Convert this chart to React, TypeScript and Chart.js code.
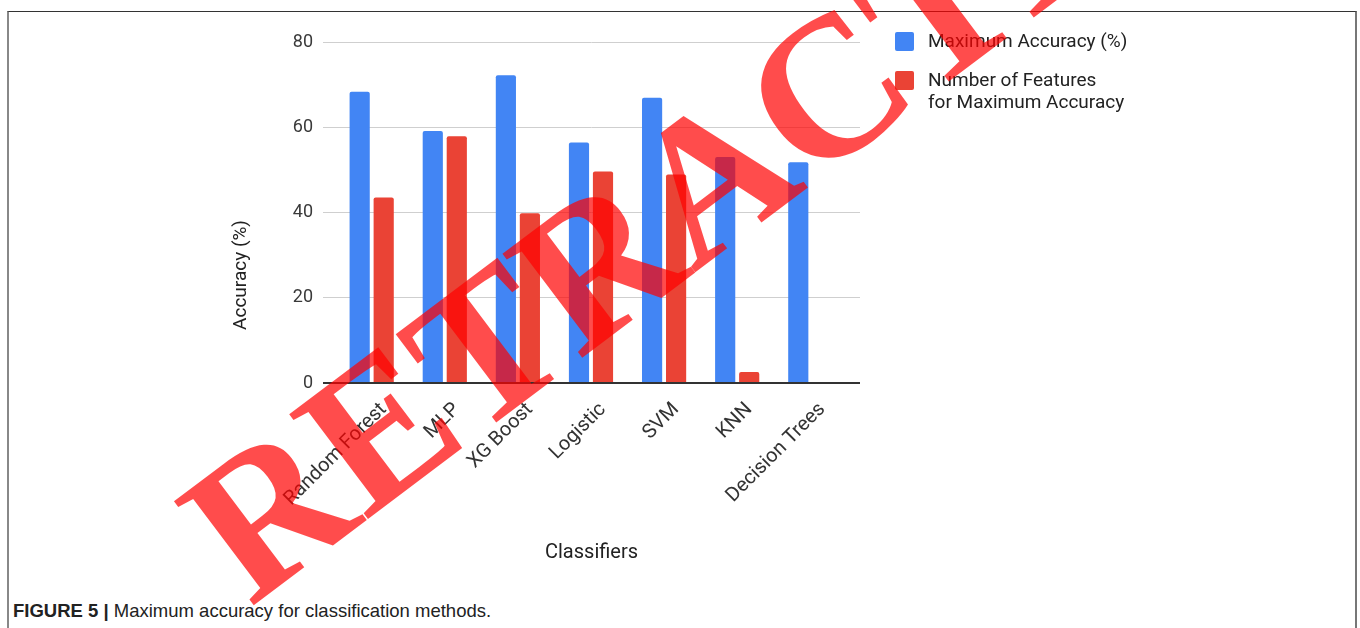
import React, { useEffect, useRef } from 'react';
import { Chart, registerables } from 'chart.js';

Chart.register(...registerables);

const categories = ['Random Forest', 'MLP', 'XG Boost', 'Logistic', 'SVM', 'KNN', 'Decision Trees'];
const maxAccuracy = [68.3, 59.1, 72.2, 56.4, 66.9, 53.0, 51.8];
const numFeatures = [43.5, 57.9, 39.8, 49.6, 48.9, 2.6, 0];
const seriesLabels = ['Maximum Accuracy (%)', 'Number of Features\nfor Maximum Accuracy'];
const seriesColors = ['#4285f4', '#ea4335'];
const yTickValues = [0, 20, 40, 60, 80];
const xTitle = 'Classifiers';
const yTitle = 'Accuracy (%)';
const captionLabel = 'FIGURE 5 |';
const captionText = 'Maximum accuracy for classification methods.';
const stampText = 'RETRACTED';

export default function App() {
  const ref = useRef<HTMLCanvasElement>(null);

  useEffect(() => {
    const canvas = ref.current;
    if (!canvas) return;

    const overlay = {
      id: 'overlay',
      afterDraw(chart: any) {
        const ctx = chart.ctx as CanvasRenderingContext2D;
        const area = chart.chartArea;
        // y axis title
        ctx.save();
        ctx.translate(241.5, 275);
        ctx.rotate(-Math.PI / 2);
        ctx.font = '19px Roboto';
        ctx.fillStyle = '#222';
        ctx.textAlign = 'center';
        ctx.textBaseline = 'middle';
        ctx.fillText(yTitle, 0, 0);
        ctx.restore();

        // legend
        const lx = area.right + 35;
        chart.data.datasets.forEach((ds: any, i: number) => {
          const top = 32 + i * 39;
          ctx.save();
          ctx.fillStyle = ds.backgroundColor;
          ctx.beginPath();
          if ((ctx as any).roundRect) (ctx as any).roundRect(lx, top, 19, 19, 2);
          else ctx.rect(lx, top, 19, 19);
          ctx.fill();
          ctx.font = '19px Roboto';
          ctx.fillStyle = '#222';
          ctx.textAlign = 'left';
          ctx.textBaseline = 'middle';
          String(ds.label).split('\n').forEach((line: string, j: number) => {
            ctx.fillText(line, lx + 33, top + 10.5 + j * 21.7);
          });
          ctx.restore();
        });

        // retraction stamp
        ctx.save();
        ctx.translate(250, 608);
        ctx.rotate((-37 * Math.PI) / 180);
        ctx.font = 'bold 200px "Liberation Serif"';
        ctx.fillStyle = 'rgba(255,0,0,0.7)';
        ctx.textAlign = 'left';
        ctx.textBaseline = 'alphabetic';
        ctx.fillText(stampText, 0, 0);
        ctx.restore();
      },
    };

    Chart.defaults.font.family = 'Roboto';

    const chart = new Chart(canvas, {
      type: 'bar',
      data: {
        datasets: [
          {
            label: seriesLabels[0],
            data: maxAccuracy.map((y, i) => ({ x: i, y })),
            backgroundColor: seriesColors[0],
            categoryPercentage: 0.657,
            barPercentage: 0.84,
            borderRadius: 2,
          },
          {
            label: seriesLabels[1],
            data: numFeatures.map((y, i) => ({ x: i, y })),
            backgroundColor: seriesColors[1],
            categoryPercentage: 0.657,
            barPercentage: 0.84,
            borderRadius: 2,
          },
        ],
      },
      options: {
        responsive: false,
        animation: false,
        layout: { padding: { left: 0, top: 42, right: 500, bottom: 45 } },
        plugins: { legend: { display: false }, tooltip: { enabled: false } },
        scales: {
          x: {
            type: 'linear',
            min: -0.666,
            max: 6.68,
            bounds: 'data',
            offset: false,
            afterBuildTicks: (axis: any) => {
              axis.ticks = categories.map((_, i) => ({ value: i }));
            },
            afterFit: (axis: any) => {
              axis.height = 200;
            },
            grid: { display: false, offset: false },
            border: { display: false },
            ticks: {
              autoSkip: false,
              minRotation: 45,
              maxRotation: 45,
              padding: 7,
              labelOffset: 12,
              color: '#333',
              font: { size: 20 },
              callback: (_v: any, index: number) => categories[index] ?? '',
            },
            title: {
              display: true,
              text: xTitle,
              color: '#222',
              font: { size: 20 },
              padding: { top: 0, bottom: 18 },
            },
          },
          y: {
            min: 0,
            max: 80,
            afterBuildTicks: (axis: any) => {
              axis.ticks = yTickValues.map((v) => ({ value: v }));
            },
            afterFit: (axis: any) => {
              axis.width = 323;
            },
            grid: {
              color: (c: any) => (c.tick && c.tick.value === 0 ? '#333' : '#cfcfcf'),
              lineWidth: (c: any) => (c.tick && c.tick.value === 0 ? 2 : 1),
              drawTicks: false,
            },
            border: { display: false },
            ticks: { padding: 10, color: '#3a3a3a', font: { size: 18 } },
          },
        },
      },
      plugins: [overlay],
    } as any);

    return () => chart.destroy();
  }, []);

  return (
    <div style={{ position: 'absolute', left: 0, top: 0, width: 1360, height: 628, overflow: 'hidden', background: '#fff' }}>
      <div
        style={{
          position: 'absolute',
          left: 7,
          top: 11,
          width: 1350,
          height: 700,
          boxSizing: 'border-box',
          borderTop: '1px solid #333',
          borderLeft: '2px solid #888',
          borderRight: '2px solid #777',
        }}
      />
      <div
        style={{
          position: 'absolute',
          left: 13,
          top: 600,
          font: '18.5px "Liberation Sans", Arial, sans-serif',
          lineHeight: '22px',
          color: '#222',
          whiteSpace: 'nowrap',
        }}
      >
        <b>{captionLabel}</b> {captionText}
      </div>
      <canvas
        ref={ref}
        width={1360}
        height={628}
        style={{ position: 'absolute', left: 0, top: 0, width: 1360, height: 628, display: 'block' }}
      />
    </div>
  );
}
